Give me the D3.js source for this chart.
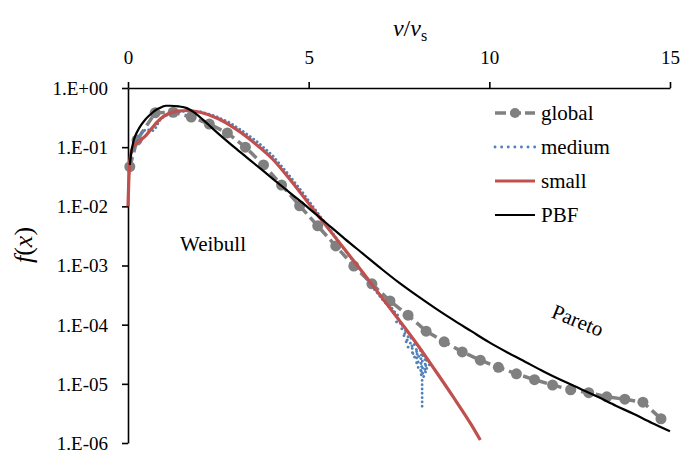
<!DOCTYPE html>
<html>
<head>
<meta charset="utf-8">
<script src="https://cdn.jsdelivr.net/npm/d3@7"></script>
<style>
  body { margin: 0; background: #fff; }
  svg { display: block; font-family: "Liberation Serif", "DejaVu Serif", serif; }
</style>
</head>
<body>
<svg width="681" height="453"></svg>
<script>
// values; f stored as log10
var globalV = [0.05, 0.25, 0.75, 1.25, 1.75, 2.25, 2.75, 3.25, 3.75, 4.25, 4.75, 5.25, 5.75, 6.25, 6.75, 7.25, 7.75, 8.25, 8.75, 9.25, 9.75, 10.25, 10.75, 11.25, 11.75, 12.25, 12.75, 13.25, 13.75, 14.25, 14.75];
var globalLog = [-1.33, -0.88, -0.42, -0.41, -0.49, -0.61, -0.76, -1.0, -1.3, -1.64, -1.99, -2.33, -2.67, -3.01, -3.31, -3.60, -3.84, -4.11, -4.29, -4.46, -4.60, -4.72, -4.83, -4.93, -5.02, -5.10, -5.15, -5.22, -5.26, -5.31, -5.59];

var mediumV = [0.03, 0.1, 0.2, 0.3, 0.4, 0.5, 0.6, 0.7, 0.78, 0.86, 0.95, 1.1, 1.3, 1.6, 2.0, 2.4, 2.8, 3.2, 3.6, 4.0, 4.4, 4.8, 5.2, 5.6, 6.0, 6.4, 6.8, 7.1, 7.3, 7.4, 7.5, 7.42, 7.62, 7.55, 7.72, 7.6, 7.85, 7.66, 7.95, 7.75, 8.1, 7.82, 8.2, 7.9, 8.3, 7.95, 8.35, 8.02, 8.3, 8.05, 8.25, 8.08, 8.2, 8.14, 8.14, 8.14, 8.14, 8.14, 8.14];
var mediumLog = [-1.3, -1.1, -0.95, -0.82, -0.74, -0.70, -0.71, -0.72, -0.66, -0.56, -0.50, -0.45, -0.42, -0.39, -0.40, -0.47, -0.58, -0.74, -0.92, -1.14, -1.43, -1.74, -2.07, -2.40, -2.74, -3.05, -3.39, -3.62, -3.72, -3.80, -3.86, -3.95, -4.00, -4.06, -4.12, -4.18, -4.22, -4.28, -4.34, -4.38, -4.44, -4.48, -4.52, -4.55, -4.60, -4.64, -4.68, -4.72, -4.74, -4.78, -4.80, -4.84, -4.86, -4.92, -5.02, -5.12, -5.22, -5.31, -5.39];

var smallV = [0.0, 0.02, 0.05, 0.1, 0.2, 0.35, 0.5, 0.7, 0.9, 1.1, 1.35, 1.65, 2.0, 2.5, 3.0, 3.5, 4.0, 4.5, 5.0, 5.5, 6.0, 6.5, 7.0, 7.5, 8.0, 8.5, 9.0, 9.5, 9.75];
var smallLog = [-2.0, -1.6, -1.25, -1.05, -0.95, -0.88, -0.80, -0.65, -0.52, -0.44, -0.39, -0.38, -0.41, -0.52, -0.70, -0.93, -1.20, -1.56, -1.95, -2.34, -2.73, -3.12, -3.52, -3.92, -4.33, -4.77, -5.22, -5.69, -5.95];

var pbfV = [0.05, 0.1, 0.14, 0.2, 0.28, 0.37, 0.47, 0.58, 0.69, 0.8, 0.94, 1.05, 1.16, 1.4, 1.63, 1.85, 2.08, 2.5, 3.0, 3.5, 4.0, 4.5, 5.0, 5.5, 6.0, 6.5, 7.0, 7.5, 8.0, 8.5, 9.0, 9.5, 10.0, 10.5, 11.0, 11.5, 12.0, 12.5, 13.0, 13.5, 14.0, 14.5, 15.0];
var pbfLog = [-1.30, -1.05, -0.93, -0.81, -0.71, -0.62, -0.54, -0.47, -0.41, -0.36, -0.32, -0.30, -0.30, -0.31, -0.34, -0.42, -0.54, -0.77, -1.03, -1.28, -1.53, -1.78, -2.03, -2.29, -2.55, -2.80, -3.05, -3.29, -3.51, -3.72, -3.92, -4.11, -4.30, -4.47, -4.63, -4.79, -4.94, -5.08, -5.22, -5.37, -5.51, -5.66, -5.80];

var xTicks = [0, 5, 10, 15];
var yTicks = [1, 1e-1, 1e-2, 1e-3, 1e-4, 1e-5, 1e-6];
var legendNames = ["global", "medium", "small", "PBF"];

var svg = d3.select("svg");
var x = d3.scaleLinear().domain([0, 15]).range([128, 670]);
var y = d3.scaleLog().domain([1e-6, 1]).range([443, 88]);

function pts(vs, ls) {
    return vs.map(function(v, i) { return [v, Math.pow(10, ls[i])]; });
}
var line = d3.line()
    .x(function(d) { return x(d[0]); })
    .y(function(d) { return y(d[1]); });
var smooth = d3.line()
    .curve(d3.curveMonotoneX)
    .x(function(d) { return x(d[0]); })
    .y(function(d) { return y(d[1]); });

// axes
var xAxis = svg.append("g")
    .attr("transform", "translate(0," + y(1) + ")")
    .call(d3.axisTop(x).tickValues(xTicks).tickSize(6).tickSizeOuter(0).tickPadding(18));
var yAxis = svg.append("g")
    .attr("transform", "translate(" + x(0) + ",0)")
    .call(d3.axisLeft(y).tickValues(yTicks).tickSize(6).tickSizeOuter(0).tickPadding(14)
        .tickFormat(function(d) {
            var e = Math.round(Math.log10(d));
            return "1.E" + (e >= 0 ? "+" : "-") + (Math.abs(e) < 10 ? "0" : "") + Math.abs(e);
        }));
[xAxis, yAxis].forEach(function(a) {
    a.selectAll("path, line").attr("stroke", "#000").attr("stroke-width", 1.6);
    a.selectAll("text").attr("fill", "#000").style("font-size", "19px")
        .style("font-family", "'Liberation Serif', serif");
});
yAxis.selectAll("text").attr("dy", "0.34em");

// series
svg.append("path")
    .attr("d", line(pts(globalV, globalLog)))
    .attr("fill", "none").attr("stroke", "#808080")
    .attr("stroke-width", 3.5).attr("stroke-dasharray", "10,5");
svg.append("g").selectAll("circle")
    .data(pts(globalV, globalLog))
    .enter().append("circle")
    .attr("cx", function(d) { return x(d[0]); })
    .attr("cy", function(d) { return y(d[1]); })
    .attr("r", 5.5)
    .attr("fill", "#808080");

svg.append("path")
    .attr("d", line(pts(mediumV, mediumLog)))
    .attr("fill", "none").attr("stroke", "#4F81BD")
    .attr("stroke-width", 2.8).attr("stroke-linecap", "round")
    .attr("stroke-dasharray", "0.1,4.2");

svg.append("path")
    .attr("d", smooth(pts(smallV, smallLog)))
    .attr("fill", "none").attr("stroke", "#C0504D")
    .attr("stroke-width", 3.2);

svg.append("path")
    .attr("d", smooth(pts(pbfV, pbfLog)))
    .attr("fill", "none").attr("stroke", "#000")
    .attr("stroke-width", 2.2);

// legend
var lg = svg.append("g").attr("transform", "translate(495,113)");
legendNames.forEach(function(n, i) {
    var row = lg.append("g").attr("transform", "translate(0," + i * 34 + ")");
    var ln = row.append("line").attr("x1", 0).attr("x2", 40).attr("y1", 0).attr("y2", 0);
    if (n == "global") {
        ln.attr("stroke", "#808080").attr("stroke-width", 3.5).attr("stroke-dasharray", "11,4");
        row.append("circle").attr("cx", 20).attr("cy", 0).attr("r", 5).attr("fill", "#808080");
    } else if (n == "medium") {
        ln.attr("stroke", "#4F81BD").attr("stroke-width", 2.8).attr("stroke-linecap", "round").attr("stroke-dasharray", "0.1,6.5");
    } else if (n == "small") {
        ln.attr("stroke", "#C0504D").attr("stroke-width", 3.2);
    } else {
        ln.attr("stroke", "#000").attr("stroke-width", 2.2);
    }
    row.append("text").attr("x", 46).attr("y", 0).attr("dy", "0.33em")
        .style("font-size", "21px").text(n);
});

// labels
var tx = svg.append("text").attr("x", 410).attr("y", 36).attr("text-anchor", "middle").style("font-size", "24px");
tx.append("tspan").style("font-style", "italic").text("v");
tx.append("tspan").text("/");
tx.append("tspan").style("font-style", "italic").text("v");
tx.append("tspan").attr("dy", 5).style("font-size", "16px").text("s");

var ty = svg.append("text").attr("transform", "translate(32,245) rotate(-90)")
    .attr("text-anchor", "middle").style("font-size", "26px");
ty.append("tspan").style("font-style", "italic").text("f");
ty.append("tspan").text("(");
ty.append("tspan").style("font-style", "italic").text("x");
ty.append("tspan").text(")");

svg.append("text").attr("x", 180).attr("y", 251).style("font-size", "21px").text("Weibull");
svg.append("text").attr("transform", "translate(575,327) rotate(22)")
    .attr("text-anchor", "middle").style("font-size", "21px").text("Pareto");
</script>
</body>
</html>
